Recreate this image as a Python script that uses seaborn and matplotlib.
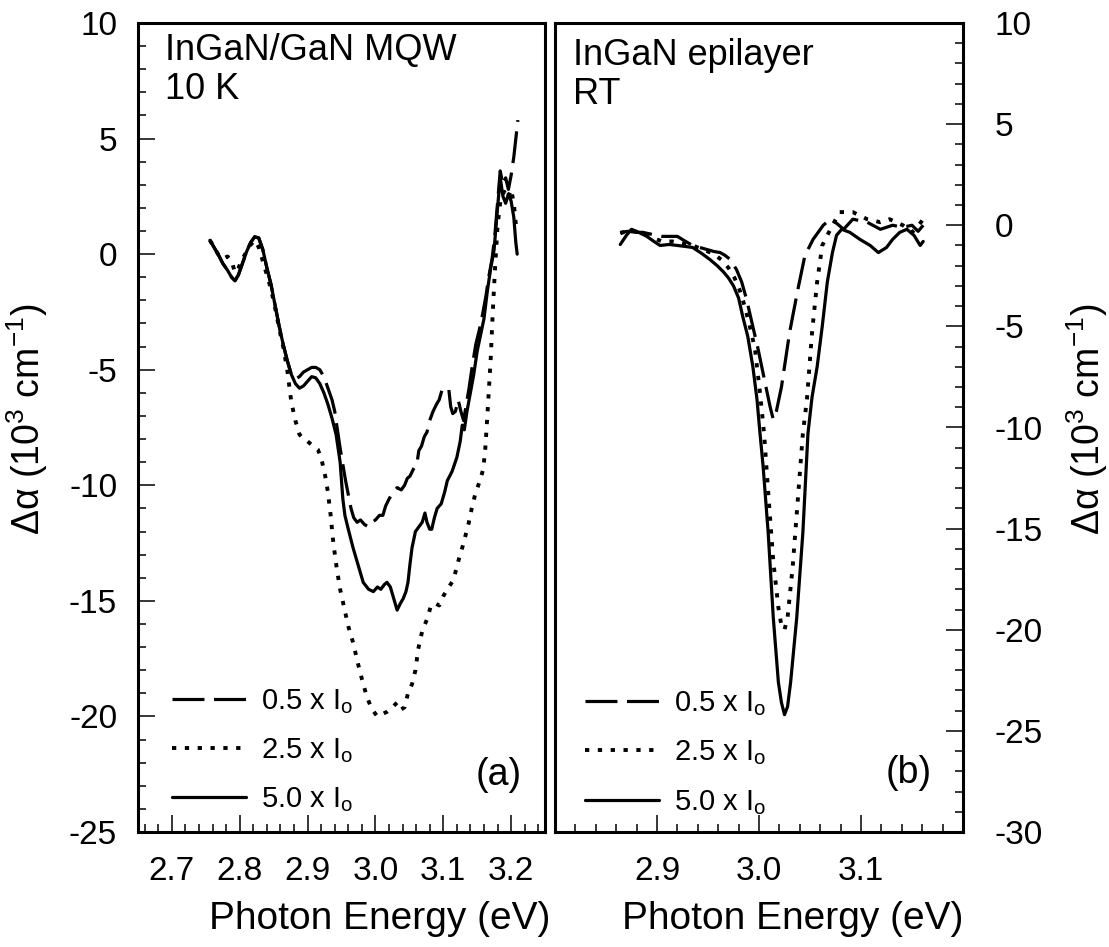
import matplotlib
matplotlib.use("Agg")
import numpy as np
import pandas as pd
import matplotlib.pyplot as plt
import seaborn as sns
from matplotlib.ticker import MultipleLocator, FixedLocator, FormatStrFormatter

# ---------------- (a) InGaN/GaN MQW, 10 K ----------------
mqw_e_05 = [2.756, 2.762, 2.768, 2.775, 2.782, 2.788, 2.793, 2.798, 2.804, 2.810,
            2.816, 2.822, 2.828, 2.834, 2.840, 2.846, 2.852, 2.858, 2.864, 2.870,
            2.876, 2.882, 2.888, 2.894, 2.900, 2.906, 2.912, 2.918, 2.924, 2.930,
            2.936, 2.940, 2.944, 2.948, 2.952, 2.956, 2.960, 2.964, 2.968, 2.973,
            2.978, 2.984, 2.990, 2.995, 3.000, 3.006, 3.011, 3.015, 3.020, 3.026,
            3.032, 3.038, 3.043, 3.047, 3.051, 3.056, 3.061, 3.064, 3.068, 3.072,
            3.076, 3.080, 3.085, 3.090, 3.094, 3.098, 3.103, 3.108, 3.111, 3.114,
            3.118, 3.122, 3.126, 3.130, 3.134, 3.138, 3.143, 3.148, 3.153, 3.158,
            3.163, 3.167, 3.172, 3.176, 3.180, 3.184, 3.188, 3.192, 3.196, 3.200,
            3.204, 3.207, 3.210]
mqw_da_05 = [0.6, 0.3, 0.0, -0.4, -0.7, -1.0, -1.15, -0.9, -0.4, 0.1,
             0.5, 0.75, 0.7, 0.2, -0.6, -1.3, -2.2, -3.1, -3.9, -4.6,
             -5.2, -5.4, -5.3, -5.1, -5.0, -4.9, -4.9, -5.0, -5.3, -5.8,
             -6.3, -6.8, -7.6, -8.4, -9.1, -9.8, -10.4, -11.0, -11.4, -11.6,
             -11.5, -11.7, -11.8, -11.6, -11.5, -11.3, -11.3, -10.9, -10.6, -10.3,
             -10.1, -10.2, -10.0, -9.7, -9.6, -9.3, -9.1, -8.5, -8.3, -7.9,
             -7.7, -7.2, -6.8, -6.5, -6.3, -5.9, -5.8, -5.8, -6.6, -6.9,
             -6.8, -6.3, -6.8, -7.2, -6.5, -5.8, -4.8, -3.9, -3.3, -2.6,
             -1.8, -1.0, -0.2, 0.8, 2.2, 3.6, 3.0, 3.3, 2.8, 3.4,
             4.2, 5.0, 5.8]

mqw_e_25 = [2.756, 2.762, 2.768, 2.775, 2.782, 2.788, 2.793, 2.798, 2.804, 2.810,
            2.816, 2.822, 2.828, 2.834, 2.840, 2.846, 2.852, 2.858, 2.864, 2.870,
            2.876, 2.882, 2.888, 2.894, 2.900, 2.908, 2.915, 2.920, 2.926, 2.930,
            2.934, 2.938, 2.943, 2.948, 2.954, 2.960, 2.967, 2.975, 2.982, 2.988,
            2.995, 3.003, 3.010, 3.017, 3.025, 3.032, 3.038, 3.043, 3.048, 3.054,
            3.059, 3.063, 3.069, 3.076, 3.082, 3.088, 3.094, 3.100, 3.106, 3.115,
            3.122, 3.129, 3.137, 3.142, 3.147, 3.154, 3.159, 3.162, 3.165, 3.167,
            3.170, 3.173, 3.176, 3.180, 3.185, 3.190, 3.195, 3.200, 3.204, 3.208]
mqw_da_25 = [0.6, 0.3, 0.0, -0.2, -0.1, -0.3, -0.8, -0.6, -0.2, 0.1,
             0.4, 0.6, 0.3, -0.3, -0.9, -1.5, -2.3, -3.2, -4.0, -5.0,
             -6.4, -7.2, -7.8, -8.0, -8.1, -8.3, -8.45, -8.8, -9.6, -10.3,
             -11.3, -12.5, -13.6, -14.5, -15.3, -16.1, -16.8, -17.8, -18.6, -19.2,
             -19.7, -20.0, -19.9, -19.8, -19.6, -19.4, -19.7, -19.6, -19.0, -18.6,
             -18.0, -17.1, -16.3, -15.8, -15.2, -15.1, -15.2, -14.8, -14.5, -14.1,
             -13.3, -12.6, -11.7, -11.0, -10.4, -9.8, -9.3, -8.4, -7.0, -6.0,
             -4.5, -2.5, -0.8, 1.2, 2.5, 2.7, 2.4, 2.8, 2.2, 1.0]

mqw_e_50 = [2.756, 2.762, 2.768, 2.775, 2.782, 2.788, 2.793, 2.798, 2.804, 2.810,
            2.816, 2.822, 2.828, 2.834, 2.840, 2.846, 2.852, 2.858, 2.864, 2.870,
            2.876, 2.882, 2.888, 2.894, 2.900, 2.906, 2.912, 2.918, 2.924, 2.930,
            2.936, 2.942, 2.948, 2.952, 2.955, 2.960, 2.967, 2.975, 2.982, 2.990,
            2.997, 3.003, 3.008, 3.013, 3.017, 3.022, 3.027, 3.032, 3.037, 3.041,
            3.045, 3.048, 3.051, 3.054, 3.059, 3.064, 3.069, 3.073, 3.076, 3.080,
            3.083, 3.087, 3.091, 3.097, 3.102, 3.106, 3.113, 3.120, 3.125, 3.128,
            3.131, 3.135, 3.140, 3.145, 3.150, 3.155, 3.160, 3.165, 3.170, 3.175,
            3.180, 3.184, 3.188, 3.192, 3.196, 3.200, 3.204, 3.207, 3.209]
mqw_da_50 = [0.6, 0.3, 0.0, -0.4, -0.7, -1.0, -1.15, -0.9, -0.4, 0.1,
             0.5, 0.75, 0.7, 0.2, -0.6, -1.3, -2.2, -3.1, -3.9, -4.6,
             -5.2, -5.6, -5.8, -5.7, -5.5, -5.3, -5.35, -5.6, -6.0, -6.5,
             -7.1, -7.8, -9.0, -10.6, -11.3, -11.9, -12.7, -13.5, -14.2, -14.5,
             -14.6, -14.4, -14.5, -14.3, -14.2, -14.4, -14.9, -15.4, -15.1, -14.9,
             -14.6, -14.2, -13.4, -12.7, -12.0, -11.8, -11.6, -11.2, -11.6, -11.9,
             -11.9, -11.4, -11.0, -10.8, -10.3, -9.8, -9.4, -8.8, -8.1, -7.4,
             -7.6, -6.8, -6.0, -5.2, -4.2, -3.5, -2.8, -1.6, -0.6, 0.2,
             2.0, 3.3, 2.5, 2.2, 2.6, 2.3, 1.6, 0.5, 0.0]

# ---------------- (b) InGaN epilayer, RT ----------------
epi_e_05 = [2.864, 2.872, 2.880, 2.886, 2.895, 2.905, 2.912, 2.920, 2.928, 2.935,
            2.942, 2.949, 2.956, 2.962, 2.967, 2.972, 2.978, 2.983, 2.988, 2.993,
            2.999, 3.006, 3.011, 3.014, 3.017, 3.022, 3.030, 3.038, 3.045, 3.053,
            3.063, 3.070, 3.076, 3.083, 3.092, 3.106, 3.119, 3.131, 3.141, 3.150,
            3.156, 3.161]
epi_da_05 = [-0.35, -0.3, -0.35, -0.35, -0.45, -0.55, -0.55, -0.55, -0.8, -1.0,
             -1.1, -1.2, -1.3, -1.35, -1.5, -1.7, -2.2, -2.8, -3.7, -4.8,
             -6.1, -7.8, -9.0, -9.6, -9.2, -8.0, -5.3, -3.2, -1.5, -0.7,
             0.0, 0.3, 0.1, -0.2, 0.3, 0.15, -0.2, 0.0, -0.1, 0.0,
             -0.3, 0.0]

epi_e_25 = [2.864, 2.870, 2.878, 2.886, 2.895, 2.905, 2.915, 2.925, 2.935, 2.945,
            2.955, 2.963, 2.970, 2.976, 2.981, 2.986, 2.991, 2.996, 3.001, 3.005,
            3.009, 3.014, 3.019, 3.022, 3.025, 3.028, 3.033, 3.038, 3.043, 3.047,
            3.052, 3.057, 3.062, 3.070, 3.079, 3.092, 3.106, 3.119, 3.128, 3.141,
            3.150, 3.155, 3.161]
epi_da_25 = [-0.4, -0.3, -0.3, -0.4, -0.6, -0.8, -0.8, -0.9, -1.0, -1.2,
             -1.4, -1.7, -2.1, -2.6, -3.2, -4.0, -5.0, -6.1, -8.3, -10.3,
             -13.2, -16.6, -18.9, -19.8, -20.0, -19.4, -16.9, -13.6, -10.3, -8.6,
             -5.3, -2.8, -1.0, -0.2, 0.65, 0.65, 0.3, 0.15, 0.3, 0.0,
             -0.35, -0.1, 0.3]

epi_e_50 = [2.864, 2.870, 2.875, 2.882, 2.890, 2.897, 2.903, 2.912, 2.920, 2.928,
            2.935, 2.944, 2.952, 2.959, 2.965, 2.970, 2.975, 2.980, 2.984, 2.989,
            2.994, 2.998, 3.001, 3.004, 3.009, 3.014, 3.019, 3.022, 3.025, 3.028,
            3.031, 3.037, 3.043, 3.048, 3.052, 3.057, 3.062, 3.067, 3.072, 3.076,
            3.081, 3.089, 3.099, 3.109, 3.117, 3.125, 3.131, 3.138, 3.145, 3.152,
            3.158, 3.161]
epi_da_50 = [-0.95, -0.5, -0.2, -0.35, -0.55, -0.8, -1.0, -0.95, -1.0, -1.05,
             -1.1, -1.4, -1.7, -2.0, -2.3, -2.6, -3.0, -3.6, -4.5, -5.5,
             -7.0, -8.6, -10.3, -11.9, -15.2, -19.4, -22.6, -23.6, -24.2, -23.8,
             -22.6, -19.4, -15.2, -10.3, -8.5, -7.0, -5.0, -2.8, -1.35, -0.5,
             -0.2, -0.35, -0.7, -1.0, -1.35, -1.1, -0.7, -0.35, -0.2, -0.5,
             -1.0, -0.8]

# Labelled energies on each panel's x axis
ticks_a = [2.7, 2.8, 2.9, 3.0, 3.1, 3.2]
ticks_b = [2.9, 3.0, 3.1]

series_labels = ["0.5 x $\\mathregular{I_o}$", "2.5 x $\\mathregular{I_o}$",
                 "5.0 x $\\mathregular{I_o}$"]
x_label = "Photon Energy (eV)"
y_label = "\u0394\u03b1 (10$^{3}$ cm$^{-1}$)"

sns.set_theme(style="ticks")
plt.rcParams["font.family"] = ["Liberation Sans", "DejaVu Sans"]
plt.rcParams["mathtext.default"] = "regular"
plt.rcParams["axes.unicode_minus"] = False

line_styles = [(0, (10, 3)), (0, (1.1, 2.2)), "-"]
line_widths = [2.3, 2.8, 2.3]

fig = plt.figure(figsize=(11.09, 9.47), dpi=100)
W, H = 1109.0, 947.0
axL = fig.add_axes([138 / W, 1 - 832 / H, 407 / W, 809 / H])
axR = fig.add_axes([555 / W, 1 - 832 / H, 408 / W, 809 / H])


def draw_panel(ax, curves):
    for (e, d), lab, ls, lw in zip(curves, series_labels, line_styles, line_widths):
        df = pd.DataFrame({"E": e, "da": d})
        sns.lineplot(data=df, x="E", y="da", ax=ax, color="black", lw=lw,
                     linestyle=ls, estimator=None, sort=False, label=lab,
                     dash_capstyle="butt")


draw_panel(axL, [(mqw_e_05, mqw_da_05), (mqw_e_25, mqw_da_25), (mqw_e_50, mqw_da_50)])
draw_panel(axR, [(epi_e_05, epi_da_05), (epi_e_25, epi_da_25), (epi_e_50, epi_da_50)])

axL.set_xlim(2.65, 3.25)
axL.set_ylim(-25, 10)
axR.set_xlim(2.8, 3.2)
axR.set_ylim(-30, 10)

for ax, xt in ((axL, ticks_a), (axR, ticks_b)):
    ax.set_facecolor("white")
    ax.grid(False)
    for sp in ax.spines.values():
        sp.set_visible(True)
        sp.set_color("black")
        sp.set_linewidth(2.2)
    ax.xaxis.set_major_locator(FixedLocator(xt))
    ax.xaxis.set_minor_locator(MultipleLocator(0.02))
    ax.yaxis.set_major_locator(MultipleLocator(5))
    ax.yaxis.set_minor_locator(MultipleLocator(1))
    ax.tick_params(which="major", direction="in", length=12, width=1.1,
                   color="black", labelsize=24, labelcolor="black")
    ax.tick_params(which="minor", direction="in", length=6, width=1.1, color="black")
    ax.tick_params(axis="x", which="both", top=False, pad=17)
    ax.xaxis.set_major_formatter(FormatStrFormatter("%.1f"))
    ax.set_xlabel(x_label, fontsize=28, color="black")

axL.tick_params(axis="y", which="both", left=True, right=False, pad=15)
axR.yaxis.tick_right()
axR.yaxis.set_label_position("right")
axR.tick_params(axis="y", which="both", left=False, right=True, pad=23)

axL.set_ylabel(y_label, fontsize=27, color="black")
axR.set_ylabel(y_label, fontsize=27, color="black")
axL.yaxis.set_label_coords(-0.215, 0.51)
axR.yaxis.set_label_coords(1.248, 0.51)
axL.xaxis.set_label_coords(0.595, -0.085)
axR.xaxis.set_label_coords(0.583, -0.085)

axL.text(0.066, 0.988, "InGaN/GaN MQW\n10 K", transform=axL.transAxes,
         ha="left", va="top", fontsize=26, linespacing=1.15, color="black")
axR.text(0.044, 0.982, "InGaN epilayer\nRT", transform=axR.transAxes,
         ha="left", va="top", fontsize=26, linespacing=1.15, color="black")
axL.text(0.885, 0.071, "(a)", transform=axL.transAxes, ha="center", va="center",
         fontsize=27, color="black")
axR.text(0.868, 0.073, "(b)", transform=axR.transAxes, ha="center", va="center",
         fontsize=27, color="black")

for ax, x0, y0 in ((axL, 0.083, 0.022), (axR, 0.073, 0.019)):
    leg = ax.legend(loc="lower left", bbox_to_anchor=(x0, y0), frameon=False,
                    fontsize=21, handlelength=2.55, handletextpad=0.5,
                    labelspacing=0.7, borderpad=0, borderaxespad=0)
    for t in leg.get_texts():
        t.set_color("black")

fig.savefig("out.png", dpi=100, facecolor="white")
